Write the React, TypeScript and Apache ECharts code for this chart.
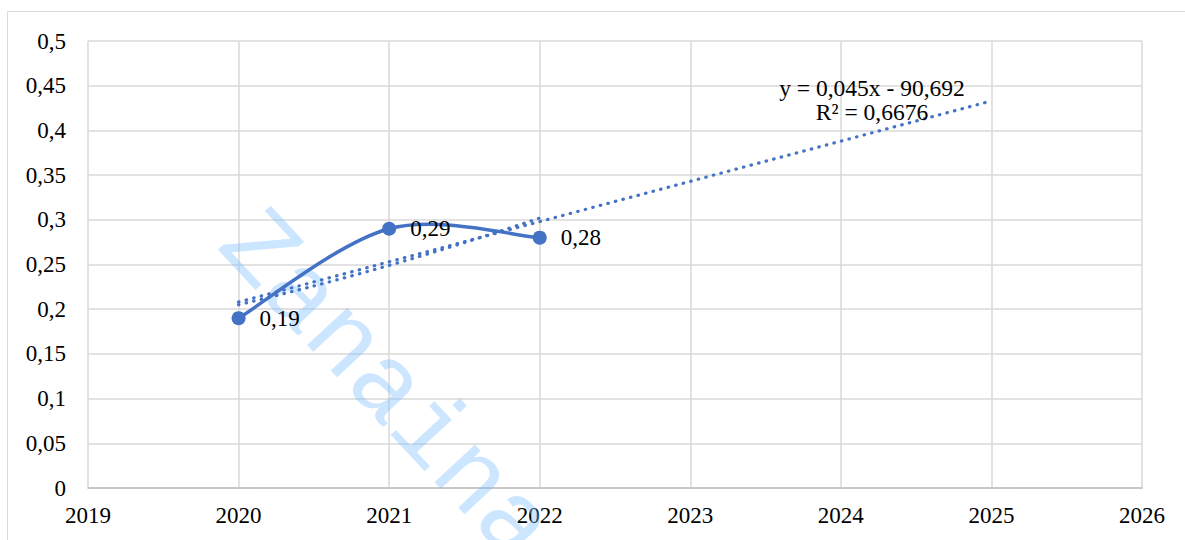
import React, { useEffect, useRef } from "react";
import * as echarts from "echarts";

// Observed values by year
const YEARS = [2020, 2021, 2022];
const VALUES = [0.19, 0.29, 0.28];

// Linear trend y = 0,045x - 90,692, forecast to 2025
const LINEAR_TREND_X = [2020, 2025];
const LINEAR_TREND_Y = [0.208, 0.433];

// Exponential trend over the observed years
const EXP_TREND_X = [2020, 2021, 2022];
const EXP_TREND_Y = [0.205, 0.249, 0.302];

const X_MIN = 2019;
const X_MAX = 2026;
const Y_MIN = 0;
const Y_MAX = 0.5;
const Y_STEP = 0.05;

const EQUATION = "y = 0,045x - 90,692\nR² = 0,6676";
const WATERMARK = "Zanaina";

const BLUE = "#4472C4";
const GRID = "#d9d9d9";
const FONT = "Liberation Serif";

const fmtComma = (v: number) => String(+v.toFixed(2)).replace(".", ",");

// serif text style used for every label
const serifRich = {
  s: { fontFamily: FONT, fontSize: 23, color: "#000", fontWeight: "normal" },
};

// Catmull-Rom style smoothed path (tension 1/6) through pixel points
function smoothPath(pts: number[][]): string {
  let d = `M${pts[0][0]},${pts[0][1]}`;
  for (let i = 0; i < pts.length - 1; i++) {
    const p0 = pts[Math.max(i - 1, 0)];
    const p1 = pts[i];
    const p2 = pts[i + 1];
    const p3 = pts[Math.min(i + 2, pts.length - 1)];
    const c1x = p1[0] + (p2[0] - p0[0]) / 6;
    const c1y = p1[1] + (p2[1] - p0[1]) / 6;
    const c2x = p2[0] - (p3[0] - p1[0]) / 6;
    const c2y = p2[1] - (p3[1] - p1[1]) / 6;
    d += ` C${c1x},${c1y} ${c2x},${c2y} ${p2[0]},${p2[1]}`;
  }
  return d;
}

export default function App() {
  const ref = useRef<HTMLDivElement>(null);

  useEffect(() => {
    document.body.style.margin = "0";
    const chart = echarts.init(ref.current!, undefined, { renderer: "svg" });

    const dotted = {
      color: BLUE,
      width: 3.2,
      type: [0.5, 7.3] as number[],
      cap: "round" as const,
    };

    const points = YEARS.map((y, i) => [y, VALUES[i]]);

    chart.setOption({
      animation: false,
      backgroundColor: "#fff",
      textStyle: { fontFamily: FONT },
      grid: { left: 88, top: 41, right: 43, bottom: 52, containLabel: false },
      xAxis: {
        type: "value",
        min: X_MIN,
        max: X_MAX,
        interval: 1,
        axisLine: { show: true, lineStyle: { color: "#bfbfbf", width: 1.5 } },
        axisTick: { show: false },
        axisLabel: {
          formatter: (v: number) => `{s|${v}}`,
          rich: serifRich,
          fontFamily: FONT,
          fontSize: 23,
          margin: 16,
        },
        splitLine: { show: true, lineStyle: { color: GRID, width: 1.5 } },
      },
      yAxis: {
        type: "value",
        min: Y_MIN,
        max: Y_MAX,
        interval: Y_STEP,
        axisLine: { show: false },
        axisTick: { show: false },
        axisLabel: {
          formatter: (v: number) => `{s|${fmtComma(v)}}`,
          rich: serifRich,
          fontFamily: FONT,
          fontSize: 23,
          margin: 22,
        },
        splitLine: { show: true, lineStyle: { color: GRID, width: 1.5 } },
      },
      graphic: [
        {
          type: "rect",
          z: 0,
          silent: true,
          shape: { x: 7.5, y: 11.5, width: 1190, height: 540 },
          style: { fill: "none", stroke: GRID, lineWidth: 1 },
        },
        {
          type: "text",
          z: 1,
          silent: true,
          x: 236,
          y: 228,
          rotation: (-47 * Math.PI) / 180,
          style: {
            text: WATERMARK,
            fontFamily: "Liberation Mono",
            fontSize: 104,
            fill: "rgba(120, 190, 255, 0.38)",
            align: "left",
            verticalAlign: "middle",
          },
        },
        {
          type: "text",
          z: 10,
          silent: true,
          x: 872,
          y: 100,
          style: {
            text: EQUATION,
            fontFamily: FONT,
            fontSize: 23.5,
            lineHeight: 24,
            fill: "#000",
            align: "center",
            verticalAlign: "middle",
          },
        },
      ],
      series: [
        {
          // smoothed line through the observed values
          type: "custom",
          name: "value line",
          coordinateSystem: "cartesian2d",
          data: points,
          encode: { x: 0, y: 1 },
          z: 3,
          silent: true,
          renderItem: (params: any, api: any) => {
            if (params.dataIndex !== 0) return null;
            const px = points.map((p) => api.coord(p));
            return {
              type: "path",
              shape: { pathData: smoothPath(px) },
              style: { fill: "none", stroke: BLUE, lineWidth: 3.5 },
            };
          },
        },
        {
          type: "scatter",
          name: "value",
          data: points,
          symbol: "circle",
          symbolSize: 14,
          itemStyle: { color: BLUE, opacity: 1 },
          z: 5,
          label: {
            show: true,
            position: "right",
            distance: 14,
            formatter: (p: any) => `{s|${fmtComma(p.value[1])}}`,
            rich: serifRich,
            fontFamily: FONT,
            fontSize: 23,
          },
        },
        {
          type: "line",
          name: "linear trend",
          data: LINEAR_TREND_X.map((x, i) => [x, LINEAR_TREND_Y[i]]),
          symbol: "none",
          lineStyle: dotted,
          z: 4,
        },
        {
          type: "line",
          name: "exponential trend",
          data: EXP_TREND_X.map((x, i) => [x, EXP_TREND_Y[i]]),
          smooth: true,
          symbol: "none",
          lineStyle: dotted,
          z: 4,
        },
      ],
    });

    return () => chart.dispose();
  }, []);

  return (
    <div
      ref={ref}
      style={{ position: "fixed", left: 0, top: 0, width: 1185, height: 540 }}
    />
  );
}
